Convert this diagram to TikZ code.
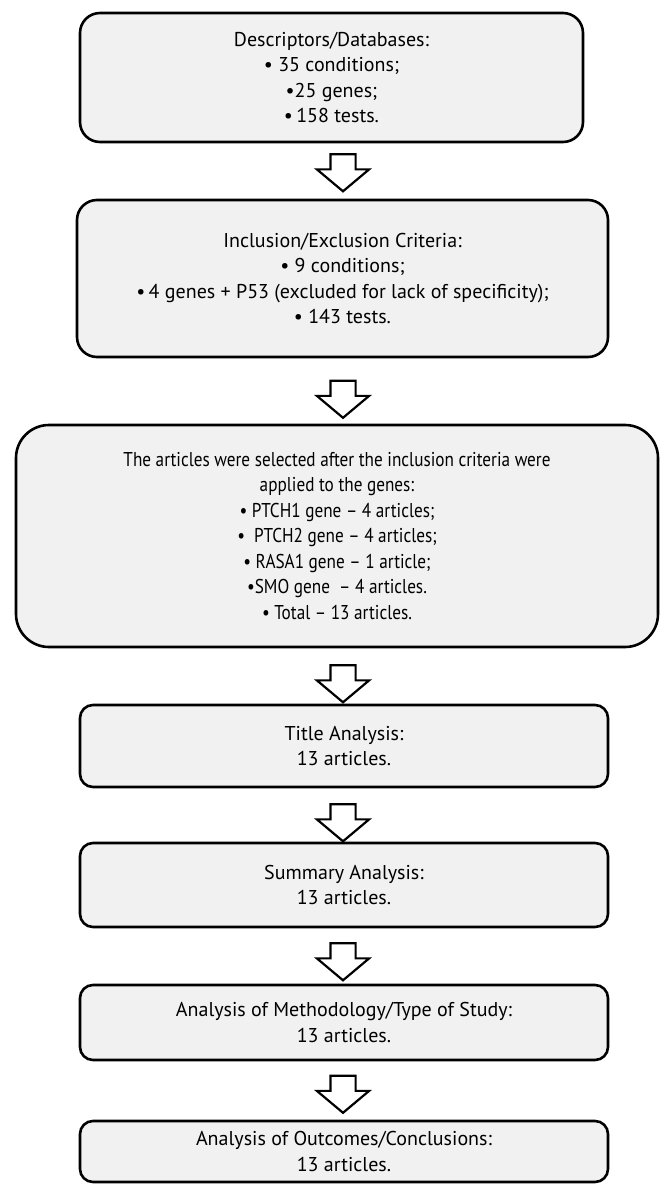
\documentclass[tikz,border=0pt]{standalone}
\usepackage{fontspec}
\setmainfont{PT Sans}
\newfontfamily\narrowsans[FakeStretch=0.86]{PT Sans}
\usetikzlibrary{shapes.arrows}
\definecolor{boxgrey}{RGB}{241,241,241}

\begin{document}
\begin{tikzpicture}[
      x=1pt, y=-1pt,
      font=\fontsize{20}{25.5}\selectfont,
      stage/.style={rectangle, draw=black, line width=2.6pt, fill=boxgrey, align=center, inner sep=0pt},
      step4/.style={stage, rounded corners=13pt, minimum width=528pt},
      downarrow/.style={single arrow, draw=black, line width=2.2pt, fill=white, rotate=-90, inner xsep=0pt, inner ysep=11.5pt, minimum height=37pt, single arrow head extend=13.5pt, single arrow tip angle=100}
  ]
  \useasboundingbox (0,0) rectangle (661,1184);

  % Search
  \node[stage, rounded corners=20pt, minimum width=503pt, minimum height=129pt] (desc) at (331.5,77.5)
    {Descriptors/Databases:\\ \textbullet\ 35 conditions;\\ \textbullet25 genes;\\ \textbullet\,158 tests.};

  % Criteria
  \node[stage, rounded corners=20pt, minimum width=531pt, minimum height=157pt] (crit) at (342.5,278.5)
    {Inclusion/Exclusion Criteria:\\ \textbullet\ 9 conditions;\\ \textbullet\,4 genes + P53 (excluded for lack of specificity);\\ \textbullet\ 143 tests.};

  % Selection by gene
  \node[stage, rounded corners=33pt, minimum width=642pt, minimum height=222pt, font=\narrowsans\fontsize{20}{25.5}\selectfont] (sel) at (337,536)
    {The articles were selected after the inclusion criteria were\\ applied to the genes:\\ • PTCH1 gene – 4 articles;\\ •\ \ PTCH2 gene – 4 articles;\\ • RASA1 gene – 1 article;\\ •SMO gene\ \ – 4 articles.\\ • Total – 13 articles.};

  % Analysis steps
  \node[step4, minimum height=82pt] (title) at (344,746) {Title Analysis:\\ 13 articles.};
  \node[step4, minimum height=84pt] (summ) at (344,885) {Summary Analysis:\\ 13 articles.};
  \node[step4, minimum height=75pt] (meth) at (344,1022.5) {Analysis of Methodology/Type of Study:\\ 13 articles.};
  \node[step4, minimum height=61pt] (outc) at (344,1151.5) {Analysis of Outcomes/Conclusions:\\ 13 articles.};

  % Block arrows
  \node[downarrow] (a1) at (343,167.5) {};
  \node[downarrow] (a2) at (343,394) {};
  \node[downarrow] (a3) at (343,678.5) {};
  \node[downarrow] (a4) at (343,817.5) {};
  \node[downarrow] (a5) at (343,956.5) {};
  \node[downarrow] (a6) at (343,1089) {};

\end{tikzpicture}
\end{document}
